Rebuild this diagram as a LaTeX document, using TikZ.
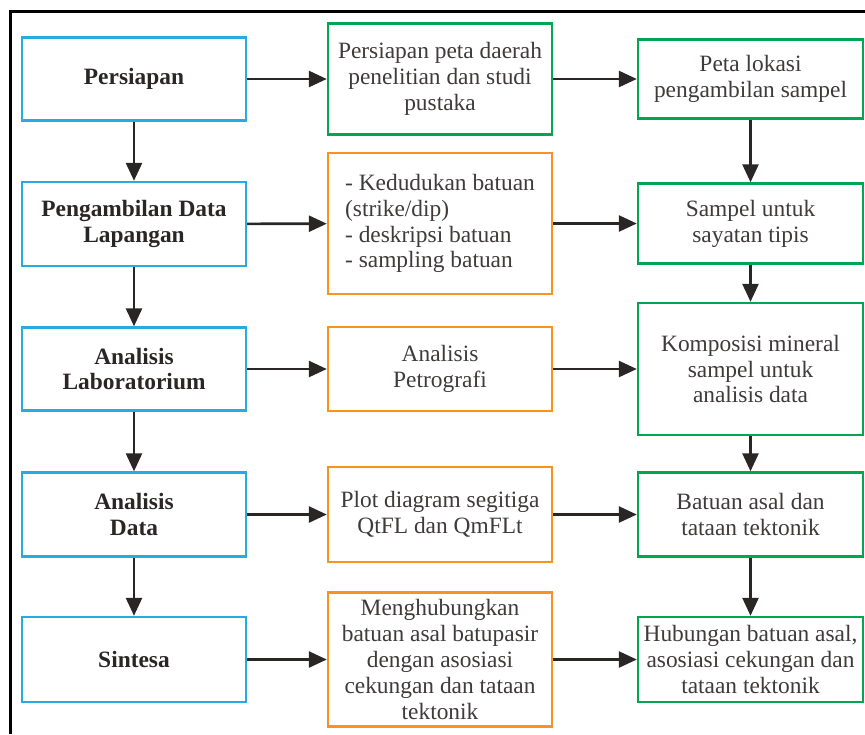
\documentclass[tikz,border=0pt]{standalone}
\usepackage{fontspec}
\setmainfont{Liberation Serif}
\usepackage{xcolor}
\usepackage{tikz}
\usetikzlibrary{positioning,arrows.meta}
\definecolor{boxblue}{RGB}{41,171,226}
\definecolor{boxorange}{RGB}{247,148,29}
\definecolor{boxgreen}{RGB}{0,166,81}
\definecolor{inkgray}{RGB}{64,58,58}
\definecolor{arrowgray}{RGB}{43,38,38}

\begin{document}
\begin{tikzpicture}[x=0.5pt,y=-0.5pt,
    font=\fontsize{11.7}{12.9}\selectfont,
    box/.style={draw,line width=1.2pt,inner sep=2pt,align=center,text=inkgray,minimum width=112pt},
    stagebox/.style={box,draw=boxblue,text=arrowgray,font=\fontsize{11.7}{12.6}\selectfont\bfseries},
    procbox/.style={box,draw=boxorange},
    resbox/.style={box,draw=boxgreen,minimum width=112.5pt},
    arr/.style={draw=arrowgray,line width=1.3pt,-{Triangle[length=9pt,width=8pt]}}]
    \useasboundingbox (0,0) rectangle (865,734);

    % Frame
    \draw [line width=1.5pt] (10.5,734) -- (10.5,11.5) -- (865,11.5);

    % Stages
    \node [stagebox, minimum height=41.5pt] (per) at (134,79) {Persiapan};
    \node [stagebox, minimum height=42pt] (ambil) at (134,224) {Pengambilan Data\\Lapangan};
    \node [stagebox, minimum height=41.5pt] (lab) at (134,369) {Analisis\\Laboratorium};
    \node [stagebox, minimum height=42pt] (data) at (134,514.5) {Analisis\\Data};
    \node [stagebox, minimum height=42.5pt] (sin) at (134,659.5) {Sintesa};

    % Processes
    \node [resbox, minimum width=112pt, minimum height=55.5pt] (peta) at (440,79) {Persiapan peta daerah\\penelitian dan studi\\pustaka};
    \node [procbox, align=left, minimum height=70.5pt] (kedud) at (440,223.5) {- Kedudukan batuan\\(strike/dip)\\- deskripsi batuan\\- sampling batuan};
    \node [procbox, minimum height=42pt] (petro) at (440,369) {Analisis\\Petrografi};
    \node [procbox, minimum height=47.5pt] (plot) at (440,514.5) {Plot diagram segitiga\\QtFL dan QmFLt};
    \node [procbox, minimum height=67pt] (hubung) at (440,659.5) {Menghubungkan\\batuan asal batupasir\\dengan asosiasi\\cekungan dan tataan\\tektonik};

    % Results
    \node [resbox, minimum height=39.5pt] (lokasi) at (750.5,79) {Peta lokasi\\pengambilan sampel};
    \node [resbox, minimum height=40pt] (sampel) at (750.5,223.5) {Sampel untuk\\sayatan tipis};
    \node [resbox, minimum height=66pt] (kompos) at (750.5,369) {Komposisi mineral\\sampel untuk\\analisis data};
    \node [resbox, minimum height=42pt] (batuan) at (750.5,514.5) {Batuan asal dan\\tataan tektonik};
    \node [resbox, minimum height=42.5pt] (hasil) at (750.5,659.5) {Hubungan batuan asal,\\asosiasi cekungan dan\\tataan tektonik};

    % Arrows
    \draw [arr] (per) -- (ambil);
    \draw [arr] (ambil) -- (lab);
    \draw [arr] (lab) -- (data);
    \draw [arr] (data) -- (sin);
    \draw [arr] (lokasi) -- (sampel);
    \draw [arr] (sampel) -- (kompos);
    \draw [arr] (kompos) -- (batuan);
    \draw [arr] (batuan) -- (hasil);
    \draw [arr] (per) -- (peta);   \draw [arr] (peta) -- (lokasi);
    \draw [arr] (ambil) -- (kedud); \draw [arr] (kedud) -- (sampel);
    \draw [arr] (lab) -- (petro);  \draw [arr] (petro) -- (kompos);
    \draw [arr] (data) -- (plot);  \draw [arr] (plot) -- (batuan);
    \draw [arr] (sin) -- (hubung); \draw [arr] (hubung) -- (hasil);
\end{tikzpicture}
\end{document}
